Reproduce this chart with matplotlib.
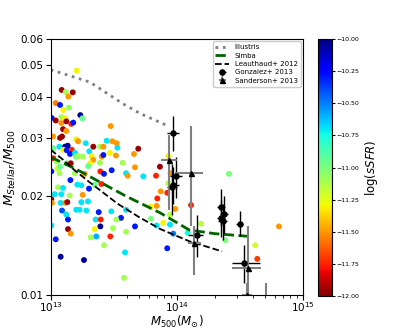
import numpy as np
import matplotlib
matplotlib.use("Agg")
import matplotlib.pyplot as plt
from matplotlib.ticker import NullFormatter, FixedLocator, FixedFormatter

# simulated groups: log10(M500), M*/M500, log(sSFR)
log_m500 = [13.206, 13.087, 13.119, 13.175, 13.14, 13.04, 13.074, 13.008, 13.04, 13.084,
            13.1, 13.145, 13.116, 13.235, 13.251, 13.084, 13.124, 13.163, 13.179, 13.098,
            13.124, 13.09, 13.074, 13.018, 13.203, 13.217, 13.278, 13.338, 13.391, 13.068,
            13.02, 13.113, 13.135, 13.1, 13.127, 13.167, 13.153, 13.193, 13.201, 13.219,
            13.254, 13.306, 13.325, 13.338, 13.312, 13.298, 13.391, 13.405, 13.418, 13.444,
            13.489, 13.524, 13.529, 13.471, 13.518, 13.571, 13.598, 13.484, 13.418, 13.695,
            13.661, 13.02, 13.048, 13.052, 13.074, 13.127, 13.159,
            13.598, 13.558, 13.598, 13.59, 13.669, 13.582, 13.476,
            13.005, 13.071, 13.19, 13.27, 13.394, 13.423, 13.156, 13.058, 13.098, 13.211,
            13.243, 13.304, 13.349, 13.402, 13.005, 13.01, 13.032, 13.084, 13.079, 13.116,
            13.132, 13.151, 13.254, 13.296, 13.243, 13.203, 13.23, 13.283, 13.09, 13.124,
            13.137, 13.381, 13.357, 13.397, 13.481, 13.521, 13.394, 13.349, 13.317, 13.362,
            13.473, 13.494, 13.423, 13.137, 13.159, 13.04, 13.005, 13.079, 13.264,
            13.669, 13.735, 13.611,
            13.933, 13.867, 13.836, 13.952, 13.933, 13.873, 13.925, 13.846, 13.841, 13.794,
            13.989, 13.947, 13.796, 13.894, 13.947, 13.841, 13.973, 13.925, 14.114, 14.193,
            14.087, 14.415, 14.386, 14.812, 14.624, 14.64]
ratio = [0.0482, 0.0421, 0.0415, 0.0414, 0.0402, 0.0384, 0.0379, 0.0346, 0.0340, 0.0348,
         0.0366, 0.0372, 0.0346, 0.0353, 0.0345, 0.0334, 0.0338, 0.0332, 0.0335, 0.0320,
         0.0316, 0.0304, 0.0301, 0.0304, 0.0298, 0.0294, 0.0290, 0.0283, 0.0283, 0.0283,
         0.0280, 0.0283, 0.0285, 0.0277, 0.0276, 0.0277, 0.0269, 0.0271, 0.0264, 0.0265,
         0.0264, 0.0274, 0.0264, 0.0258, 0.0252, 0.0247, 0.0253, 0.0264, 0.0283, 0.0295,
         0.0294, 0.0290, 0.0281, 0.0271, 0.0266, 0.0253, 0.0235, 0.0240, 0.0267, 0.0279,
         0.0269, 0.0261, 0.0255, 0.0243, 0.0246, 0.0252, 0.0252,
         0.0182, 0.0172, 0.0156, 0.0135, 0.0162, 0.0113, 0.0327,
         0.0238, 0.0235, 0.0235, 0.0234, 0.0238, 0.0234, 0.0224, 0.0213, 0.0212, 0.0217,
         0.0216, 0.0211, 0.0217, 0.0218, 0.0196, 0.0191, 0.0203, 0.0203, 0.0191, 0.0191,
         0.0192, 0.0201, 0.0202, 0.0193, 0.0192, 0.0182, 0.0182, 0.0181, 0.0181, 0.0176,
         0.0170, 0.0179, 0.0170, 0.0170, 0.0180, 0.0170, 0.0162, 0.0159, 0.0150, 0.0151,
         0.0151, 0.0160, 0.0142, 0.0159, 0.0154, 0.0148, 0.0163, 0.0131, 0.0128,
         0.0245, 0.0230, 0.0231,
         0.0265, 0.0246, 0.0231, 0.0235, 0.0219, 0.0207, 0.0205, 0.0197, 0.0187, 0.0186,
         0.0183, 0.0176, 0.0171, 0.0166, 0.0164, 0.0163, 0.0154, 0.0139, 0.0188, 0.0165,
         0.0155, 0.0234, 0.0147, 0.0162, 0.0142, 0.0129]
log_ssfr = [-11.3, -11.95, -11.1, -11.95, -11.5, -11.55, -10.3, -10.3, -11.95, -11.1,
            -11.3, -11.05, -11.3, -10.05, -10.95, -11.5, -11.95, -11.75, -10.3, -11.95,
            -11.5, -11.95, -11.95, -11.5, -11.3, -11.5, -10.7, -11.95, -11.1, -10.7,
            -10.95, -10.05, -10.05, -11.3, -10.3, -11.75, -10.3, -10.7, -10.95, -11.1,
            -11.1, -10.7, -11.3, -11.5, -11.3, -10.95, -11.1, -11.5, -11.5, -10.7,
            -11.5, -11.5, -10.7, -11.3, -11.5, -11.1, -10.7, -10.3, -10.3, -11.95,
            -11.5, -11.75, -11.1, -11.2, -10.95, -10.95, -11.95,
            -10.7, -10.3, -11.1, -10.7, -10.3, -11.1, -11.5,
            -10.3, -11.1, -11.1, -11.5, -11.75, -10.3, -10.3, -11.1, -10.7, -10.7,
            -10.7, -10.3, -10.95, -11.75, -11.95, -11.5, -10.7, -10.7, -10.7, -11.5,
            -11.95, -11.1, -11.5, -10.7, -10.7, -10.7, -10.7, -10.7, -10.4, -10.7,
            -10.3, -10.3, -10.7, -11.75, -10.7, -11.1, -10.05, -11.3, -11.1, -10.6,
            -11.75, -11.1, -11.1, -11.95, -11.5, -10.3, -10.7, -10.05, -10.05,
            -11.5, -10.7, -11.5,
            -11.3, -11.95, -11.75, -11.5, -11.15, -11.5, -11.75, -11.75, -11.5, -11.3,
            -11.5, -11.15, -11.0, -11.3, -10.7, -10.7, -10.5, -10.3, -11.75, -11.15,
            -10.75, -11.0, -11.0, -11.5, -11.2, -11.7]

# Illustris, Simba, Leauthaud+ 2012 relations
illustris_m = [13.0, 13.31, 13.57, 13.71, 13.94]
illustris_f = [0.0485, 0.0445, 0.0383, 0.0357, 0.0326]
simba_m = [13.0, 13.2, 13.4, 13.6, 13.87, 14.1, 14.3, 14.58]
simba_f = [0.0263, 0.0242, 0.0220, 0.0200, 0.0178, 0.0158, 0.0154, 0.0151]
leau_m = [13.0, 13.1, 13.19, 13.3, 13.53, 13.7, 13.87, 14.1, 14.36]
leau_f = [0.0277, 0.0258, 0.0240, 0.0222, 0.0190, 0.0173, 0.0159, 0.0146, 0.0136]

# Gonzalez+ 2013
gon_m = [13.973, 13.994, 13.973, 13.96, 14.159, 14.352, 14.375, 14.352, 14.365, 14.502, 14.536]
gon_f = [0.0312, 0.0231, 0.0217, 0.0213, 0.0152, 0.0185, 0.0177, 0.0172, 0.0168, 0.0165, 0.0125]
gon_f_lo = [0.0274, 0.0197, 0.0190, 0.0175, 0.0131, 0.0162, 0.0155, 0.0150, 0.0147, 0.0151, 0.0109]
gon_f_hi = [0.0351, 0.0264, 0.0245, 0.0250, 0.0176, 0.0210, 0.0200, 0.0195, 0.0190, 0.0180, 0.0142]
gon_m_lo = [13.925, 13.95, 13.93, 13.92, 14.09, 14.32, 14.34, 14.32, 14.33, 14.47, 14.436]
gon_m_hi = [14.02, 14.04, 14.02, 14.0, 14.209, 14.385, 14.41, 14.385, 14.4, 14.53, 14.661]

# Sanderson+ 2013
san_m = [13.941, 14.111, 14.14, 14.563, 14.556, 14.709]
san_f = [0.0258, 0.0236, 0.0144, 0.0121, 0.0100, 0.0095]
san_f_lo = [0.0182, 0.0162, 0.0115, 0.0085, 0.0080, 0.0075]
san_f_hi = [0.0308, 0.0326, 0.0162, 0.0162, 0.0109, 0.0109]
san_m_lo = [13.873, 13.987, 14.09, 14.436, 14.52, 14.68]
san_m_hi = [14.0, 14.211, 14.19, 14.666, 14.6, 14.74]

fig = plt.figure(figsize=(4.07, 3.32), dpi=100)
ax = fig.add_axes([0.1246, 0.1105, 0.619, 0.771])
cax = fig.add_axes([318 / 407, 36 / 332, 14 / 407, 257 / 332])

m500 = 10 ** np.array(log_m500)
sc = ax.scatter(m500, ratio, c=log_ssfr, cmap="jet_r", vmin=-12, vmax=-10,
                s=18, linewidths=0, zorder=1)

ax.plot(10 ** np.array(illustris_m), illustris_f, ls=":", color="gray", lw=2, label="Illustris", zorder=2)
ax.plot(10 ** np.array(simba_m), simba_f, ls="--", color="darkgreen", lw=2, label="Simba", zorder=2)
ax.plot(10 ** np.array(leau_m), leau_f, ls="--", color="black", lw=1.3, label="Leauthaud+ 2012", zorder=2)


def errs(c, lo, hi):
    c = np.array(c)
    return [c - np.array(lo), np.array(hi) - c]


gm = 10 ** np.array(gon_m)
ax.errorbar(gm, gon_f, yerr=errs(gon_f, gon_f_lo, gon_f_hi),
            xerr=errs(gm, 10 ** np.array(gon_m_lo), 10 ** np.array(gon_m_hi)),
            fmt="o", color="black", ecolor="black", ms=3.6, elinewidth=1, label="Gonzalez+ 2013", zorder=3)
sm = 10 ** np.array(san_m)
ax.errorbar(sm, san_f, yerr=errs(san_f, san_f_lo, san_f_hi),
            xerr=errs(sm, 10 ** np.array(san_m_lo), 10 ** np.array(san_m_hi)),
            fmt="^", color="black", ecolor="gray", ms=3.6, elinewidth=1.5, label="Sanderson+ 2013", zorder=3)

ax.set_xscale("log")
ax.set_yscale("log")
ax.set_xlim(1e13, 1e15)
ax.set_ylim(0.01, 0.06)
yt = [0.01, 0.02, 0.03, 0.04, 0.05, 0.06]
ax.yaxis.set_major_locator(FixedLocator(yt))
ax.yaxis.set_major_formatter(FixedFormatter(["0.01", "0.02", "0.03", "0.04", "0.05", "0.06"]))
ax.yaxis.set_minor_formatter(NullFormatter())
ax.tick_params(axis="y", labelsize=7.5, pad=1.5)
ax.tick_params(axis="x", labelsize=7.5, pad=0.3)
ax.set_xlabel(r"$M_{500}(M_{\odot})$", fontsize=8.5)
ax.xaxis.set_label_coords(0.5, -0.074)
ax.set_ylabel(r"$M_{Stellar}/M_{500}$", fontsize=9.5, labelpad=2)

ax.legend(loc="upper right", fontsize=5, handlelength=2.0, borderaxespad=0.3,
          labelspacing=0.35, framealpha=1)

cb = fig.colorbar(sc, cax=cax)
cb.set_ticks(np.arange(-12, -9.99, 0.25))
cb.ax.set_yticklabels([f"{v:.2f}".replace("-", "\u2212") for v in np.arange(-12, -9.99, 0.25)])
cb.ax.tick_params(labelsize=4.5, length=2, pad=1.5)
cb.set_label(r"log($sSFR$)", fontsize=8.5, labelpad=2)

fig.savefig("out.png", dpi=100)
